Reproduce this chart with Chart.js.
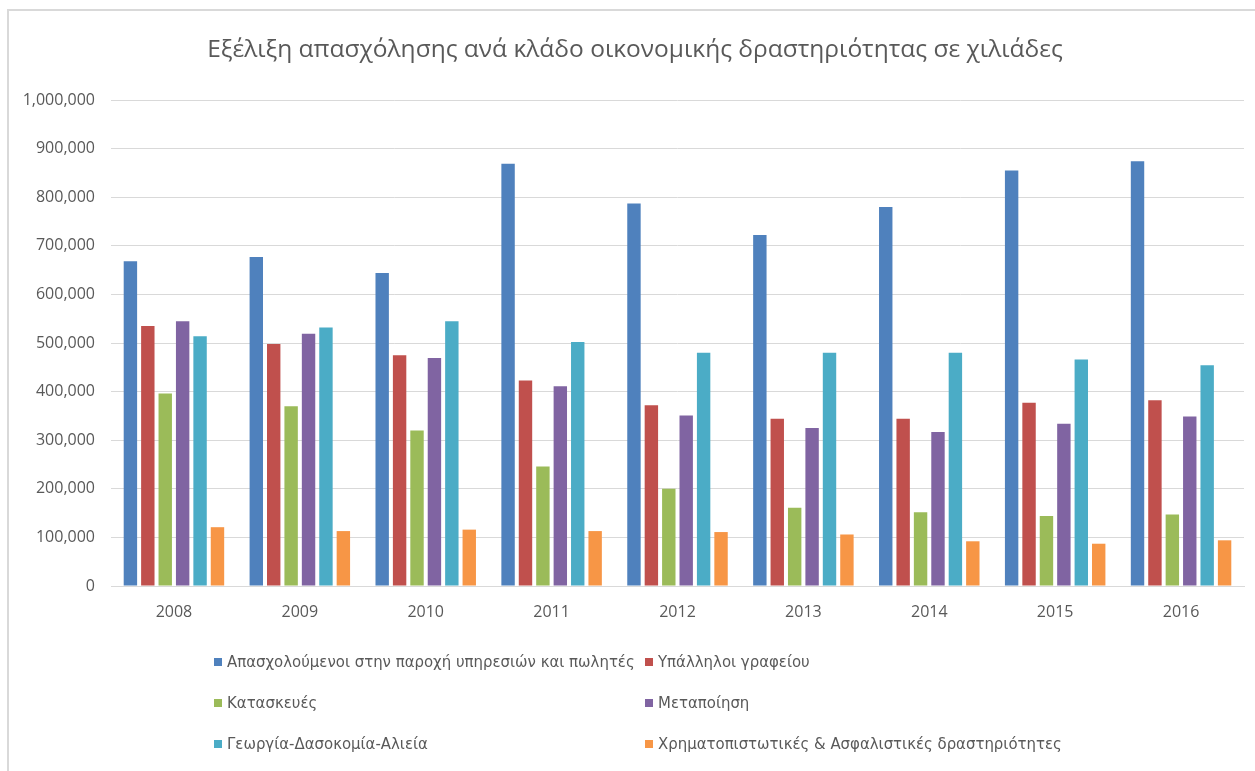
<!DOCTYPE html>
<html>
<head>
<meta charset="utf-8">
<script src="https://cdn.jsdelivr.net/npm/chart.js@4/dist/chart.umd.min.js"></script>
<style>
  html, body { margin: 0; padding: 0; background: #fff; }
  #wrap { width: 1255px; height: 771px; position: relative; }
</style>
</head>
<body>
<div id="wrap"><canvas id="c"></canvas></div>
<script>
// Data
const years = ['2008', '2009', '2010', '2011', '2012', '2013', '2014', '2015', '2016'];
const seriesNames = [
    'Απασχολούμενοι στην παροχή υπηρεσιών και πωλητές',
    'Υπάλληλοι γραφείου',
    'Κατασκευές',
    'Μεταποίηση',
    'Γεωργία-Δασοκομία-Αλιεία',
    'Χρηματοπιστωτικές & Ασφαλιστικές δραστηριότητες'
];
const services     = [668000, 677000, 644000, 869000, 787000, 722000, 780000, 855000, 874000];
const officeStaff  = [535000, 498000, 475000, 423000, 372000, 344000, 344000, 377000, 382000];
const construction = [396000, 370000, 320000, 246000, 200000, 161000, 152000, 144000, 147000];
const manufacture  = [545000, 519000, 469000, 411000, 351000, 325000, 317000, 334000, 349000];
const agriculture  = [514000, 532000, 545000, 502000, 480000, 480000, 480000, 466000, 454000];
const finance      = [121000, 113000, 116000, 113000, 111000, 106000, 92000, 87000, 94000];
const yTicks = [0, 100000, 200000, 300000, 400000, 500000, 600000, 700000, 800000, 900000, 1000000];

const colors = ['#4F81BD', '#C0504D', '#9BBB59', '#8064A2', '#4BACC6', '#F79646'];
const values = [services, officeStaff, construction, manufacture, agriculture, finance];
const titleText = 'Εξέλιξη απασχόλησης ανά κλάδο οικονομικής δραστηριότητας σε χιλιάδες';
const textColor = '#595959';
const gridColor = '#D9D9D9';

// frame, title and a two-column legend like the Excel original
const decorations = {
    id: 'decorations',
    afterDraw(chart) {
        const ctx = chart.ctx;
        ctx.save();
        ctx.strokeStyle = gridColor;
        ctx.lineWidth = 2;
        ctx.strokeRect(8, 10, 1400, 900);

        ctx.fillStyle = textColor;
        ctx.font = '24.5px "Open Sans"';
        ctx.textAlign = 'center';
        ctx.textBaseline = 'middle';
        ctx.fillText(titleText, 635, 50);

        ctx.font = '16.6px "Liberation Sans Narrow", "DejaVu Sans Condensed", sans-serif';
        ctx.textAlign = 'left';
        const colX = [214, 645];
        const rowY = [662, 703, 744];
        chart.data.datasets.forEach((ds, i) => {
            const x = colX[i % 2];
            const y = rowY[Math.floor(i / 2)];
            ctx.fillStyle = ds.backgroundColor;
            ctx.fillRect(x, y - 4, 8, 8);
            ctx.fillStyle = textColor;
            ctx.fillText(ds.label, x + 13, y + 1);
        });
        ctx.restore();
    }
};

new Chart(document.getElementById('c'), {
    type: 'bar',
    data: {
        labels: years,
        datasets: seriesNames.map((name, i) => ({
            label: name,
            data: values[i],
            backgroundColor: colors[i],
            barPercentage: 0.77,
            categoryPercentage: 0.83
        }))
    },
    options: {
        responsive: true,
        maintainAspectRatio: false,
        animation: false,
        layout: { padding: { top: 100, right: 11, bottom: 135, left: 0 } },
        plugins: {
            legend: { display: false },
            title: { display: false },
            tooltip: { enabled: false }
        },
        scales: {
            x: {
                grid: { display: false, drawTicks: false },
                border: { color: gridColor, width: 1 },
                ticks: { color: textColor, font: { family: 'Open Sans', size: 16 }, padding: 17 },
                afterFit(scale) { scale.height = 50; }
            },
            y: {
                min: 0,
                max: 1000000,
                afterBuildTicks(scale) { scale.ticks = yTicks.map(v => ({ value: v })); },
                grid: { color: gridColor, drawTicks: false },
                border: { display: false },
                ticks: {
                    color: textColor,
                    font: { family: 'Open Sans', size: 16 },
                    padding: 16,
                    callback: v => Number(v).toLocaleString('en-US')
                },
                afterFit(scale) { scale.width = 111; }
            }
        }
    },
    plugins: [decorations]
});
</script>
</body>
</html>
